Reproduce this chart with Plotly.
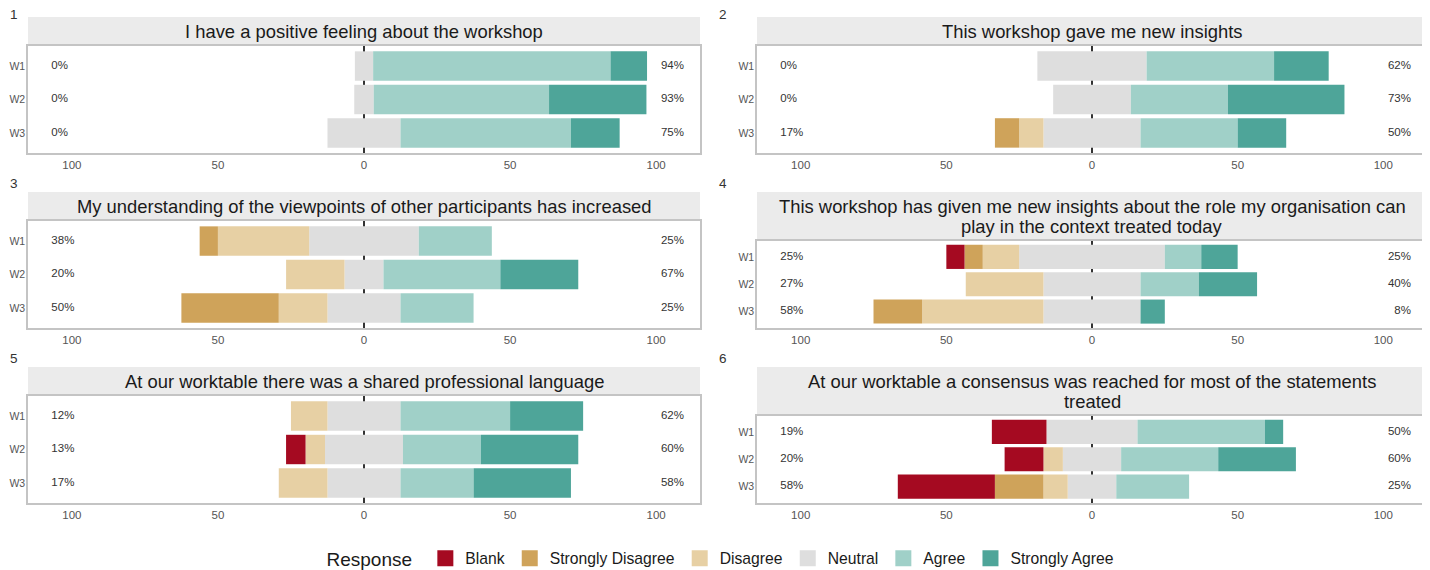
import plotly.graph_objects as go

W, H = 1430, 570
OFF = 8  # page body margin offset of the rendered figure

workshops = ["W1", "W2", "W3"]
titles = [
    ["I have a positive feeling about the workshop"],
    ["This workshop gave me new insights"],
    ["My understanding of the viewpoints of other participants has increased"],
    ["This workshop has given me new insights about the role my organisation can",
     "play in the context treated today"],
    ["At our worktable there was a shared professional language"],
    ["At our worktable a consensus was reached for most of the statements",
     "treated"],
]
blank = [[0, 0, 0], [0, 0, 0], [0, 0, 0], [6.25, 0, 0], [0, 6.67, 0], [18.75, 13.33, 33.33]]
strongly_disagree = [[0, 0, 0], [0, 0, 8.33], [6.25, 0, 33.33], [6.25, 0, 16.67], [0, 0, 0], [0, 0, 16.67]]
disagree = [[0, 0, 0], [0, 0, 8.33], [31.25, 20, 16.67], [12.5, 26.67, 41.67], [12.5, 6.67, 16.67], [0, 6.67, 8.33]]
neutral = [[6.25, 6.67, 25], [37.5, 26.67, 33.33], [37.5, 13.33, 25], [50, 33.33, 33.33], [25, 26.67, 25], [31.25, 20, 16.67]]
agree = [[81.25, 60, 58.33], [43.75, 33.33, 33.33], [25, 40, 25], [12.5, 20, 0], [37.5, 26.67, 25], [43.75, 33.33, 25]]
strongly_agree = [[12.5, 33.33, 16.67], [18.75, 40, 16.67], [0, 26.67, 0], [12.5, 20, 8.33], [25, 33.33, 33.33], [6.25, 26.67, 0]]
low_labels = [["0%", "0%", "0%"], ["0%", "0%", "17%"], ["38%", "20%", "50%"],
              ["25%", "27%", "58%"], ["12%", "13%", "17%"], ["19%", "20%", "58%"]]
high_labels = [["94%", "93%", "75%"], ["62%", "73%", "50%"], ["25%", "67%", "25%"],
               ["25%", "40%", "8%"], ["62%", "60%", "58%"], ["50%", "60%", "25%"]]

x_ticks = [-100, -50, 0, 50, 100]
x_tick_text = ["100", "50", "0", "50", "100"]

responses = ["Blank", "Strongly Disagree", "Disagree", "Neutral", "Agree", "Strongly Agree"]
colors = {
    "Blank": "#A50A21",
    "Strongly Disagree": "#CFA35A",
    "Disagree": "#E7D0A4",
    "Neutral": "#DEDEDE",
    "Agree": "#A0D0C8",
    "Strongly Agree": "#4EA599",
}

FONT = "Liberation Sans, Arial, sans-serif"

# layout geometry (target pixels in the page)
cols = [(28, 700), (757, 1427)]
row_tops = [17, 192, 367]
row_bottoms = [153, 328, 503]
num_y = [14, 183, 358]
strip1 = 29
strip2 = 48.5


def fx(p):
    return (p - OFF) / W


def fy(p):
    return 1 - (p - OFF) / H


fig = go.Figure()
shapes = []
annotations = []
layout_axes = {}

for i in range(6):
    r, c = divmod(i, 2)
    x0, x1 = cols[c]
    top = row_tops[r]
    bottom = row_bottoms[r]
    sh = strip1 if len(titles[i]) == 1 else strip2
    ptop = top + sh
    n = i + 1
    xa = "x" if n == 1 else f"x{n}"
    ya = "y" if n == 1 else f"y{n}"

    def add_bar(name, vals, sign):
        fig.add_trace(go.Bar(
            y=workshops, x=[sign * v for v in vals], orientation="h",
            name=name, marker=dict(color=colors[name], line=dict(width=0)),
            showlegend=False, xaxis=xa, yaxis=ya,
            hovertemplate=name + ": %{customdata:.1f}%<extra></extra>",
            customdata=vals,
        ))

    add_bar("Neutral", [v / 2 for v in neutral[i]], -1)
    add_bar("Disagree", disagree[i], -1)
    add_bar("Strongly Disagree", strongly_disagree[i], -1)
    add_bar("Blank", blank[i], -1)
    add_bar("Neutral", [v / 2 for v in neutral[i]], 1)
    add_bar("Agree", agree[i], 1)
    add_bar("Strongly Agree", strongly_agree[i], 1)

    fig.add_trace(go.Scatter(
        y=workshops, x=[-107] * 3, mode="text", text=low_labels[i],
        textposition="middle right", textfont=dict(size=11.5, color="#333333", family=FONT),
        showlegend=False, hoverinfo="skip", xaxis=xa, yaxis=ya, cliponaxis=False))
    fig.add_trace(go.Scatter(
        y=workshops, x=[109.5] * 3, mode="text", text=high_labels[i],
        textposition="middle left", textfont=dict(size=11.5, color="#333333", family=FONT),
        showlegend=False, hoverinfo="skip", xaxis=xa, yaxis=ya, cliponaxis=False))

    kx = "xaxis" if n == 1 else f"xaxis{n}"
    ky = "yaxis" if n == 1 else f"yaxis{n}"
    layout_axes[kx] = dict(
        domain=[fx(x0), fx(x1)], anchor=ya, range=[-115, 115], automargin=False,
        tickmode="array", tickvals=x_ticks, ticktext=x_tick_text, showgrid=False,
        zeroline=True, zerolinecolor="#333333", zerolinewidth=1.5,
        showline=True, mirror=True, linecolor="#C4C4C4", linewidth=1.5,
        ticks="", tickfont=dict(size=11.5, color="#555555", family=FONT),
        fixedrange=True,
    )
    layout_axes[ky] = dict(
        domain=[fy(bottom), fy(ptop)], anchor=xa, type="category", automargin=False,
        categoryorder="array", categoryarray=workshops, range=[2.6, -0.6],
        showgrid=False, zeroline=False, showline=True, mirror=True,
        linecolor="#C4C4C4", linewidth=1.5, ticks="", ticklabelstandoff=-1,
        tickfont=dict(size=10.5, color="#555555", family=FONT), fixedrange=True,
    )

    shapes.append(dict(type="rect", xref="paper", yref="paper",
                       x0=fx(x0), x1=fx(x1), y0=fy(ptop), y1=fy(top),
                       fillcolor="#EBEBEB", line=dict(width=0), layer="below"))
    nl = len(titles[i])
    cy = top + sh / 2
    for k, line in enumerate(titles[i]):
        ly = cy + (k - (nl - 1) / 2) * 20
        annotations.append(dict(text=line, xref="paper", yref="paper",
                                x=fx((x0 + x1) / 2), y=fy(ly), xanchor="center", yanchor="middle",
                                showarrow=False, font=dict(size=18.4, color="#1A1A1A", family=FONT)))
    annotations.append(dict(text=str(n), xref="paper", yref="paper",
                            x=fx(OFF if c == 0 else 717), y=fy(num_y[r]), xanchor="left", yanchor="middle",
                            showarrow=False, font=dict(size=13.5, color="#333333", family=FONT)))

# legend entries (legend-only square markers)
for name in responses:
    fig.add_trace(go.Scatter(
        x=[None], y=[None], mode="markers", name=name,
        marker=dict(symbol="square", size=16, color=colors[name]),
        showlegend=True, hoverinfo="skip", xaxis="x", yaxis="y"))

fig.update_layout(
    template="none",
    width=W, height=H, margin=dict(l=0, r=0, t=0, b=0, autoexpand=False),
    paper_bgcolor="white", plot_bgcolor="white",
    barmode="relative", bargap=0.12,
    font=dict(family=FONT, color="#333333"),
    shapes=shapes, annotations=annotations,
    legend=dict(orientation="h", x=fx(722), xanchor="center", y=fy(559), yanchor="middle",
                title=dict(text="Response ", font=dict(size=19, color="#1A1A1A", family=FONT)),
                font=dict(size=15.7, color="#1A1A1A", family=FONT), itemsizing="trace",
                traceorder="normal", bgcolor="rgba(0,0,0,0)"),
    **layout_axes,
)

fig.write_html("out.html")
